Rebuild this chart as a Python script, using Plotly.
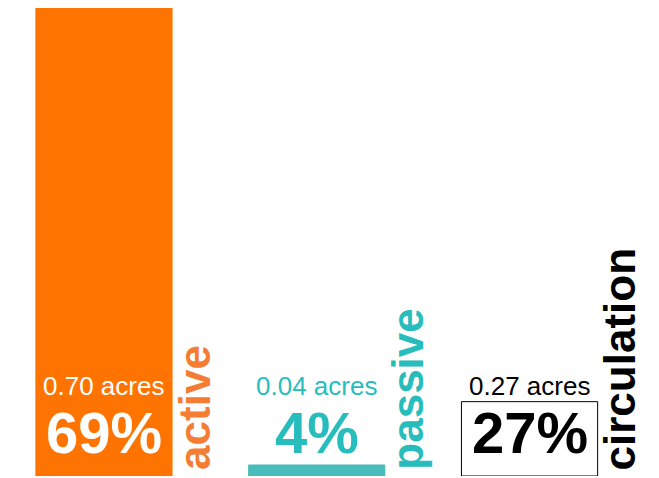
import plotly.graph_objects as go

categories = ["active", "passive", "circulation"]
acres = [0.70, 0.04, 0.27]
percent = [69, 4, 27]
# displayed bar heights (acres scale; the active bar runs off the top of the plot)
bar_heights = [1.70, 0.04, 0.27]

bar_fill = ["#FF7300", "#48BBBB", "#FFFFFF"]
bar_line = ["#FF7300", "#48BBBB", "#000000"]
label_colors = ["#F57D33", "#27BDBD", "#000000"]
value_colors = ["#FFFFFF", "#27BDBD", "#000000"]

xs = list(range(len(categories)))

fig = go.Figure()
fig.add_trace(go.Bar(
    x=xs, y=bar_heights, width=0.64,
    marker=dict(color=bar_fill, line=dict(color=bar_line, width=1)),
    hoverinfo="skip", showlegend=False,
))

FONT = "Liberation Sans, Arial, sans-serif"
ann = []
for i, c in enumerate(categories):
    ann.append(dict(x=i, xref="x", y=0.193, yref="paper", yanchor="middle",
                    text=f"{acres[i]:.2f} acres", showarrow=False,
                    font=dict(family=FONT, size=26, color=value_colors[i])))
    ann.append(dict(x=i, xref="x", y=0.093, yref="paper", yanchor="middle",
                    text=f"<b>{percent[i]}%</b>", showarrow=False,
                    font=dict(family=FONT, size=58, color=value_colors[i])))
    ann.append(dict(x=i + 0.425, xref="x", y=0, yref="paper", yanchor="bottom",
                    yshift=4, text=f"<b>{c}</b>", textangle=-90, showarrow=False,
                    font=dict(family=FONT, size=44, color=label_colors[i])))

fig.update_layout(
    width=659, height=478,
    margin=dict(l=0, r=0, t=0, b=10),
    paper_bgcolor="white", plot_bgcolor="white",
    xaxis=dict(visible=False, range=[-0.451, 2.646]),
    yaxis=dict(visible=False, range=[0, 1.70]),
    annotations=ann,
)
fig.write_html("out.html")
